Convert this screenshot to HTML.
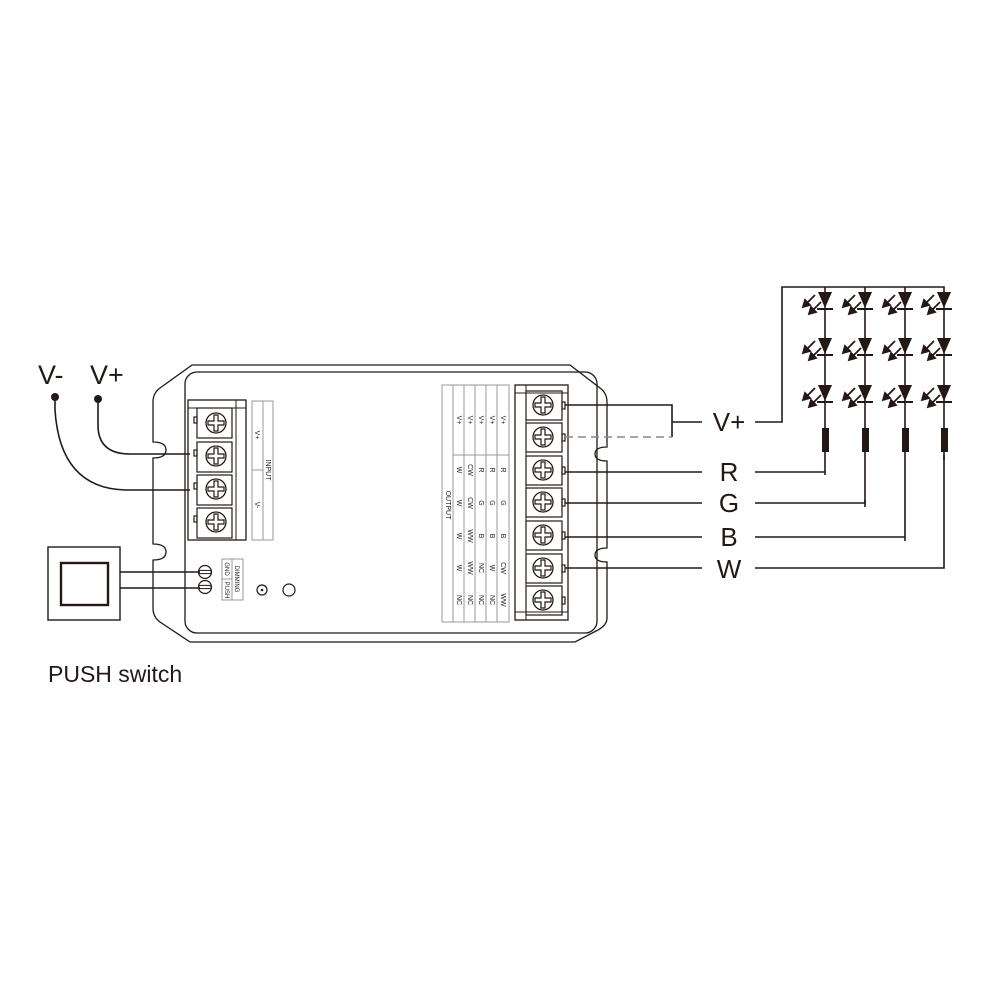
<!DOCTYPE html>
<html><head><meta charset="utf-8"><style>
html,body{margin:0;padding:0;background:#fff;}
svg{display:block;}
text{font-family:"Liberation Sans",sans-serif;fill:#231815;}
</style></head><body>
<svg width="1000" height="1000" viewBox="0 0 1000 1000" xmlns="http://www.w3.org/2000/svg">
<defs>
<g id="screw"><circle r="10" fill="#fff" stroke="#231815" stroke-width="1.3"/><path d="M-2,-8 H2 V-2 H8 V2 H2 V8 H-2 V2 H-8 V-2 H-2 Z" fill="none" stroke="#231815" stroke-width="1.2"/></g>
<g id="led">
<path d="M-7,0 H7 L0,16 Z" fill="#231815"/><line x1="-8" y1="17" x2="8" y2="17" stroke="#231815" stroke-width="2"/>
<g stroke="#231815" stroke-width="1.8" fill="#231815">
<line x1="-10" y1="3" x2="-19" y2="12"/><path d="M-22,15 L-20,8 L-15,13 Z"/>
<line x1="-4" y1="10" x2="-13" y2="19"/><path d="M-16,22 L-14,15 L-9,20 Z"/>
</g></g>
<g id="sm"><circle r="6.5" fill="#fff" stroke="#231815" stroke-width="1.2"/><rect x="-6" y="-1.6" width="12" height="3.2" fill="none" stroke="#231815" stroke-width="1"/></g>
</defs>

<!-- outer housing -->
<path d="M192,365 H570 L600,388 Q607,393 607,402 V447 Q595,447 595,454 Q595,461 607,461 V548 Q595,548 595,555 Q595,562 607,562 V618 Q607,625 598,630 L575,642 H190 L160,622 Q153,617 153,608 V560 Q166,560 166,552 Q166,544 153,544 V458 Q166,458 166,450 Q166,442 153,442 V402 Q153,393 160,388 Z" fill="none" stroke="#231815" stroke-width="1.3"/>
<!-- inner -->
<rect x="185" y="372" width="412" height="261" rx="12" fill="none" stroke="#231815" stroke-width="1.3"/>

<!-- input terminal -->
<rect x="188" y="400" width="58" height="140" fill="#fff" stroke="#231815" stroke-width="1.3"/>
<line x1="236" y1="400" x2="236" y2="540" stroke="#231815" stroke-width="1"/>
<line x1="188" y1="408" x2="246" y2="408" stroke="#231815" stroke-width="1"/>
<g stroke="#231815" stroke-width="1.2" fill="none">
<rect x="197" y="408" width="35" height="30"/><rect x="197" y="442" width="35" height="30"/><rect x="197" y="475" width="35" height="30"/><rect x="197" y="508" width="35" height="30"/>
<rect x="194" y="417" width="3" height="6"/><rect x="194" y="450" width="3" height="6"/><rect x="194" y="483" width="3" height="6"/><rect x="194" y="516" width="3" height="6"/>
</g>
<use href="#screw" x="216" y="423"/><use href="#screw" x="216" y="456"/><use href="#screw" x="216" y="489"/><use href="#screw" x="216" y="522"/>
<!-- input label -->
<rect x="252" y="401" width="21" height="139" fill="none" stroke="#999" stroke-width="1"/>
<line x1="263" y1="401" x2="263" y2="540" stroke="#999" stroke-width="1"/>
<line x1="252" y1="470" x2="263" y2="470" stroke="#999" stroke-width="1"/>
<text font-size="7" transform="translate(266,470) rotate(90)" text-anchor="middle">INPUT</text>
<text font-size="7" transform="translate(255,435) rotate(90)" text-anchor="middle">V+</text>
<text font-size="7" transform="translate(255,505) rotate(90)" text-anchor="middle">V-</text>

<!-- dimming -->
<use href="#sm" x="205" y="572"/><use href="#sm" x="205" y="587"/>
<rect x="222" y="559" width="21" height="41" fill="none" stroke="#999" stroke-width="1"/>
<line x1="232" y1="559" x2="232" y2="600" stroke="#999" stroke-width="1"/>
<line x1="222" y1="579" x2="232" y2="579" stroke="#999" stroke-width="1"/>
<text font-size="6" transform="translate(235,579) rotate(90)" text-anchor="middle">DIMMING</text>
<text font-size="6" transform="translate(225,569) rotate(90)" text-anchor="middle">GND</text>
<text font-size="6" transform="translate(225,590) rotate(90)" text-anchor="middle">PUSH</text>
<circle cx="262" cy="590" r="5" fill="none" stroke="#231815" stroke-width="1.2"/><circle cx="262" cy="590" r="1.3" fill="#231815"/>
<circle cx="289" cy="590" r="6" fill="none" stroke="#231815" stroke-width="1.2"/>

<!-- output label table -->
<g stroke="#999" stroke-width="1" fill="none">
<rect x="442" y="385" width="67" height="237"/>
<line x1="453" y1="385" x2="453" y2="622"/><line x1="464" y1="385" x2="464" y2="622"/><line x1="475" y1="385" x2="475" y2="622"/><line x1="486" y1="385" x2="486" y2="622"/><line x1="497" y1="385" x2="497" y2="622"/>
<line x1="453" y1="455" x2="509" y2="455"/>
</g>
<text font-size="7" transform="translate(446,505) rotate(90)" text-anchor="middle">OUTPUT</text>
<g font-size="7">
<text transform="translate(457,420) rotate(90)" text-anchor="middle">V+</text>
<text transform="translate(468,420) rotate(90)" text-anchor="middle">V+</text>
<text transform="translate(479,420) rotate(90)" text-anchor="middle">V+</text>
<text transform="translate(490,420) rotate(90)" text-anchor="middle">V+</text>
<text transform="translate(501,420) rotate(90)" text-anchor="middle">V+</text>
<text transform="translate(457,470) rotate(90)" text-anchor="middle">W</text>
<text transform="translate(468,470) rotate(90)" text-anchor="middle">CW</text>
<text transform="translate(479,470) rotate(90)" text-anchor="middle">R</text>
<text transform="translate(490,470) rotate(90)" text-anchor="middle">R</text>
<text transform="translate(501,470) rotate(90)" text-anchor="middle">R</text>
<text transform="translate(457,503) rotate(90)" text-anchor="middle">W</text>
<text transform="translate(468,503) rotate(90)" text-anchor="middle">CW</text>
<text transform="translate(479,503) rotate(90)" text-anchor="middle">G</text>
<text transform="translate(490,503) rotate(90)" text-anchor="middle">G</text>
<text transform="translate(501,503) rotate(90)" text-anchor="middle">G</text>
<text transform="translate(457,536) rotate(90)" text-anchor="middle">W</text>
<text transform="translate(468,536) rotate(90)" text-anchor="middle">WW</text>
<text transform="translate(479,536) rotate(90)" text-anchor="middle">B</text>
<text transform="translate(490,536) rotate(90)" text-anchor="middle">B</text>
<text transform="translate(501,536) rotate(90)" text-anchor="middle">B</text>
<text transform="translate(457,568) rotate(90)" text-anchor="middle">W</text>
<text transform="translate(468,568) rotate(90)" text-anchor="middle">WW</text>
<text transform="translate(479,568) rotate(90)" text-anchor="middle">NC</text>
<text transform="translate(490,568) rotate(90)" text-anchor="middle">W</text>
<text transform="translate(501,568) rotate(90)" text-anchor="middle">CW</text>
<text transform="translate(457,600) rotate(90)" text-anchor="middle">NC</text>
<text transform="translate(468,600) rotate(90)" text-anchor="middle">NC</text>
<text transform="translate(479,600) rotate(90)" text-anchor="middle">NC</text>
<text transform="translate(490,600) rotate(90)" text-anchor="middle">NC</text>
<text transform="translate(501,600) rotate(90)" text-anchor="middle">WW</text>
</g>

<!-- output terminal -->
<rect x="515" y="385" width="53" height="235" fill="#fff" stroke="#231815" stroke-width="1.3"/>
<line x1="515" y1="393" x2="568" y2="393" stroke="#231815" stroke-width="1"/>
<line x1="515" y1="612" x2="568" y2="612" stroke="#231815" stroke-width="1"/>
<line x1="526" y1="385" x2="526" y2="620" stroke="#231815" stroke-width="1"/>
<g stroke="#231815" stroke-width="1.2" fill="none">
<rect x="526" y="391" width="36" height="29"/><rect x="526" y="423" width="36" height="29"/><rect x="526" y="456" width="36" height="29"/><rect x="526" y="488" width="36" height="29"/><rect x="526" y="521" width="36" height="29"/><rect x="526" y="554" width="36" height="29"/><rect x="526" y="586" width="36" height="29"/>
<rect x="562" y="402" width="3" height="7"/><rect x="562" y="434" width="3" height="7"/><rect x="562" y="467" width="3" height="7"/><rect x="562" y="499" width="3" height="7"/><rect x="562" y="532" width="3" height="7"/><rect x="562" y="565" width="3" height="7"/><rect x="562" y="597" width="3" height="7"/>
</g>
<use href="#screw" x="543" y="405"/><use href="#screw" x="543" y="437"/><use href="#screw" x="543" y="470"/><use href="#screw" x="543" y="502"/><use href="#screw" x="543" y="535"/><use href="#screw" x="543" y="568"/><use href="#screw" x="543" y="600"/>

<!-- output wires -->
<g stroke="#231815" stroke-width="1.6" fill="none">
<polyline points="565,405 672,405 672,437"/>
<line x1="672" y1="422" x2="702" y2="422"/>
<polyline points="755,422 782,422 782,287 944,287 944,460"/>
<line x1="825" y1="287" x2="825" y2="475"/><line x1="865" y1="287" x2="865" y2="507"/><line x1="905" y1="287" x2="905" y2="541"/>
<line x1="565" y1="472" x2="702" y2="472"/><polyline points="755,472 825,472"/>
<line x1="565" y1="503" x2="702" y2="503"/><polyline points="755,503 865,503 865,500"/>
<line x1="565" y1="537" x2="702" y2="537"/><polyline points="755,537 905,537"/>
<line x1="565" y1="568" x2="702" y2="568"/><polyline points="755,568 944,568 944,455"/>
</g>
<line x1="565" y1="437" x2="672" y2="437" stroke="#888" stroke-width="1.6" stroke-dasharray="8,5"/>
<g font-size="26" text-anchor="middle">
<text x="729" y="431">V+</text><text x="729" y="481">R</text><text x="729" y="512">G</text><text x="729" y="546">B</text><text x="729" y="578">W</text>
</g>

<!-- LEDs -->
<g>
<use href="#led" x="825" y="292"/><use href="#led" x="825" y="338"/><use href="#led" x="825" y="385"/>
<use href="#led" x="865" y="292"/><use href="#led" x="865" y="338"/><use href="#led" x="865" y="385"/>
<use href="#led" x="905" y="292"/><use href="#led" x="905" y="338"/><use href="#led" x="905" y="385"/>
<use href="#led" x="944" y="292"/><use href="#led" x="944" y="338"/><use href="#led" x="944" y="385"/>
</g>
<g fill="#231815">
<rect x="822" y="428" width="7" height="24"/><rect x="862" y="428" width="7" height="24"/><rect x="902" y="428" width="7" height="24"/><rect x="941" y="428" width="7" height="24"/>
</g>

<!-- input wires -->
<text x="38" y="384" font-size="27">V-</text><text x="90" y="384" font-size="27">V+</text>
<circle cx="55" cy="397" r="4" fill="#231815"/><circle cx="98" cy="399" r="4" fill="#231815"/>
<g stroke="#231815" stroke-width="1.6" fill="none">
<path d="M98,399 V425 Q98,454 130,454 H190"/>
<path d="M55,397 V410 Q60,488 125,490 H190"/>
<line x1="120" y1="572" x2="200" y2="572"/><line x1="120" y1="588" x2="200" y2="588"/>
</g>
<!-- switch -->
<rect x="48" y="547" width="72" height="73" fill="none" stroke="#231815" stroke-width="1.4"/>
<rect x="61" y="563" width="47" height="42" fill="none" stroke="#231815" stroke-width="2.4"/>
<text x="48" y="682" font-size="23">PUSH switch</text>
</svg>
</body></html>
